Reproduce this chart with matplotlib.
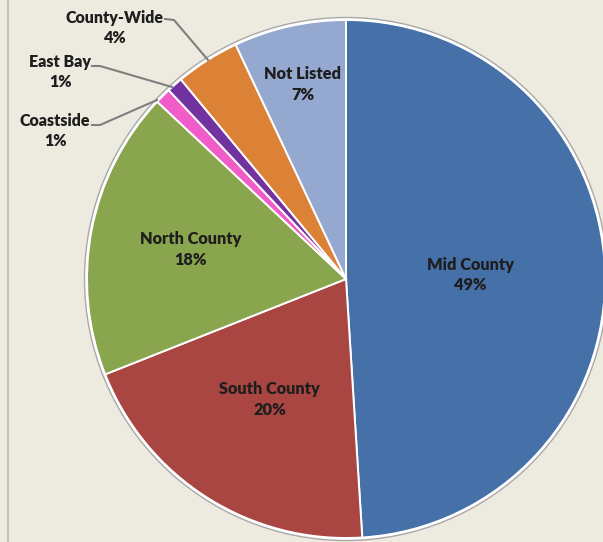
import numpy as np
import matplotlib.pyplot as plt
from matplotlib.patches import Circle

# Share of listings by region
regions = ['Mid County', 'South County', 'North County', 'Coastside',
           'East Bay', 'County-Wide', 'Not Listed']
shares = [49, 20, 18, 1, 1, 4, 7]
colors = ['#4670A8', '#A94642', '#89A54E', '#F05CC8', '#7232A0',
          '#DB8236', '#94A8D0']

plt.rcParams['font.family'] = ['Lato', 'DejaVu Sans']

fig = plt.figure(figsize=(6.03, 5.42), dpi=100)
fig.patch.set_facecolor('#EDEBE0')
ax = fig.add_axes([0, 0, 1, 1])
ax.set_facecolor('#EDEBE0')

cx, cy, r = 346, 263, 259

wedges, _ = ax.pie(shares, colors=colors, startangle=90, counterclock=False,
                   center=(cx, cy), radius=r, frame=True,
                   wedgeprops=dict(edgecolor='white', linewidth=1.4))
ax.set_xlim(0, 603)
ax.set_ylim(0, 542)
ax.set_aspect('equal')
ax.axis('off')

# outer rim
ax.add_patch(Circle((cx, cy), r + 1, fill=False, edgecolor='white', lw=2))
ax.add_patch(Circle((cx, cy), r + 2.5, fill=False, edgecolor='#A8A8A8', lw=1))

# left border
ax.plot([8, 8], [0, 542], color='#C4C2B8', lw=1.5)

# inside labels
inside = {0: 0.48, 1: 0.55, 2: 0.61, 6: 0.77}
for i, f in inside.items():
    w = wedges[i]
    ang = np.deg2rad((w.theta1 + w.theta2) / 2)
    x = cx + f * r * np.cos(ang)
    y = cy + f * r * np.sin(ang)
    ax.text(x, y, f'{regions[i]}\n{shares[i]}%', ha='center', va='center',
            fontsize=11.8, fontweight='heavy', color='#1E1E1E', linespacing=1.35)

# outside labels with leader lines
outside = {5: ((115, 514), [(165, 523), (174, 522), (208, 482)]),
           4: ((60, 470), [(92, 476), (100, 476), (172, 455)]),
           3: ((55, 411), [(92, 417), (100, 417), (157, 442)])}
for i, (pos, line) in outside.items():
    ax.text(pos[0], pos[1], f'{regions[i]}\n{shares[i]}%', ha='center', va='center',
            fontsize=11.5, fontweight='heavy', color='#1E1E1E', linespacing=1.35)
    xs, ys = zip(*line)
    ax.plot(xs, ys, color='#7F7F7F', lw=1.5)

fig.savefig('out.png', dpi=100, facecolor=fig.get_facecolor())
